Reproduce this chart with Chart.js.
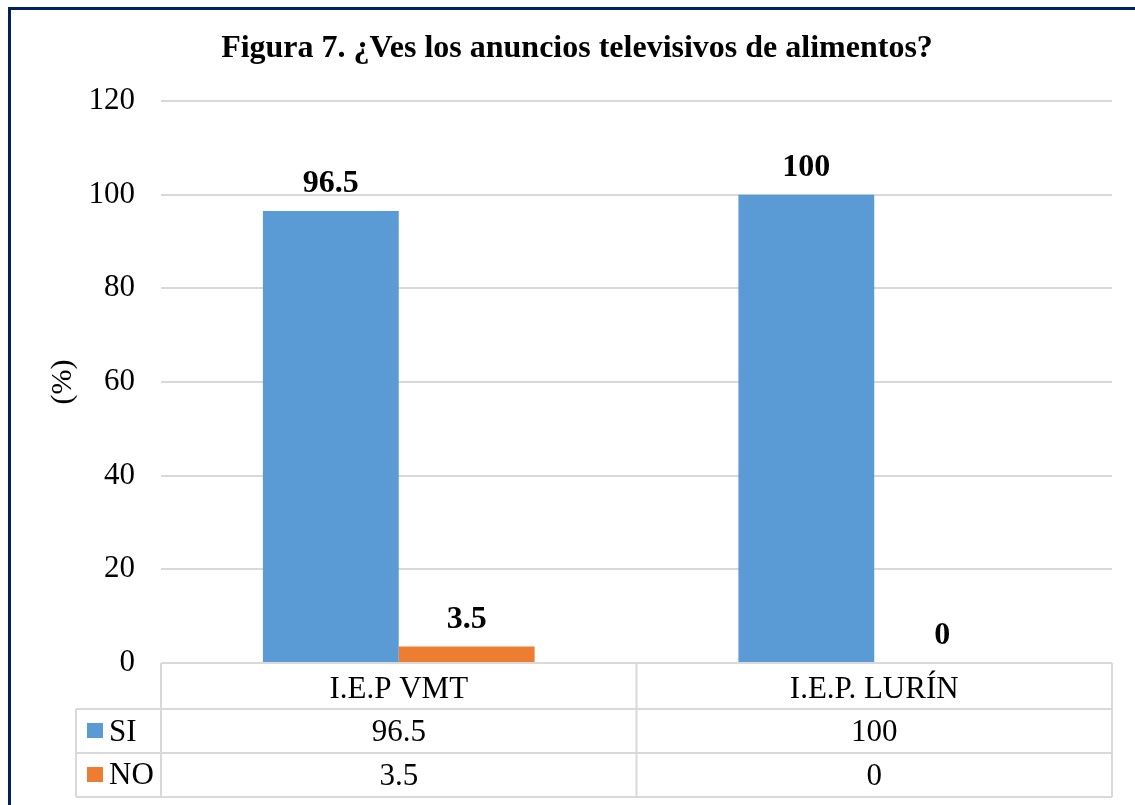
<!DOCTYPE html>
<html>
<head>
<meta charset="utf-8">
<script src="https://cdn.jsdelivr.net/npm/chart.js@4/dist/chart.umd.min.js"></script>
<style>
html,body{margin:0;padding:0;background:#fff;}
#wrap{position:relative;width:1135px;height:805px;}
</style>
</head>
<body>
<div id="wrap"><canvas id="c" width="1135" height="805"></canvas></div>
<script>
const titleText = "Figura 7. ¿Ves los anuncios televisivos de alimentos?";
const yAxisTitle = "(%)";
const categories = ["I.E.P VMT", "I.E.P. LURÍN"];
const seriesNames = ["SI", "NO"];
const siValues = [96.5, 100];
const noValues = [3.5, 0];
const yTicks = [0, 20, 40, 60, 80, 100, 120];
const colors = ["#5B9BD5", "#ED7D31"];
const FONT = "'Liberation Serif', 'Times New Roman', serif";

const framePlugin = {
  id: 'frame',
  beforeDraw(chart) {
    const ctx = chart.ctx;
    ctx.save();
    ctx.fillStyle = '#fff';
    ctx.fillRect(0, 0, chart.width, chart.height);
    ctx.fillStyle = '#002060';
    ctx.fillRect(8, 7, chart.width, 3);
    ctx.fillRect(8, 7, 3, chart.height);
    ctx.fillStyle = '#000';
    ctx.font = "bold 32px " + FONT;
    ctx.textAlign = 'center';
    ctx.textBaseline = 'alphabetic';
    ctx.fillText(titleText, 577, 57);
    // y axis title
    ctx.save();
    ctx.translate(63, 382);
    ctx.rotate(-Math.PI / 2);
    ctx.font = "30px " + FONT;
    ctx.textBaseline = 'middle';
    ctx.fillText(yAxisTitle, 0, 0);
    ctx.restore();
    ctx.restore();
  },
  afterDatasetsDraw(chart) {
    const ctx = chart.ctx;
    ctx.save();
    ctx.fillStyle = '#000';
    ctx.font = "bold 32px " + FONT;
    ctx.textAlign = 'center';
    ctx.textBaseline = 'alphabetic';
    chart.data.datasets.forEach((ds, i) => {
      const meta = chart.getDatasetMeta(i);
      meta.data.forEach((bar, j) => {
        ctx.fillText(String(ds.data[j]), bar.x, bar.y - 19);
      });
    });
    // data table
    const area = chart.chartArea;
    const x = chart.scales.x;
    const L = area.left, R = area.right, B = area.bottom;
    const y1 = 709, y2 = 753, y3 = 797;
    const legendLeft = 76;
    ctx.strokeStyle = '#d9d9d9';
    ctx.lineWidth = 2;
    ctx.beginPath();
    ctx.moveTo(L, B); ctx.lineTo(R, B);
    [y1, y2, y3].forEach(yy => { ctx.moveTo(legendLeft, yy); ctx.lineTo(R, yy); });
    ctx.moveTo(legendLeft, y1); ctx.lineTo(legendLeft, y3);
    ctx.moveTo(L, B); ctx.lineTo(L, y3);
    const mid = (x.getPixelForValue(0) + x.getPixelForValue(1)) / 2;
    ctx.moveTo(mid, B); ctx.lineTo(mid, y3);
    ctx.moveTo(R, B); ctx.lineTo(R, y3);
    ctx.stroke();
    ctx.font = "31px " + FONT;
    ctx.fillStyle = '#000';
    ctx.textAlign = 'center';
    ctx.textBaseline = 'alphabetic';
    categories.forEach((c, j) => {
      const cx = x.getPixelForValue(j);
      ctx.fillText(c, cx, 698);
      ctx.fillText(String(siValues[j]), cx, 741);
      ctx.fillText(String(noValues[j]), cx, 785);
    });
    const base = [741, 784];
    const sq = [723, 767];
    seriesNames.forEach((n, i) => {
      ctx.fillStyle = colors[i];
      ctx.fillRect(87, sq[i], 16, 15);
      ctx.fillStyle = '#000';
      ctx.textAlign = 'left';
      ctx.fillText(n, 109, base[i]);
    });
    ctx.restore();
  }
};

new Chart(document.getElementById('c'), {
  type: 'bar',
  data: {
    labels: categories,
    datasets: [
      { label: seriesNames[0], data: siValues, backgroundColor: colors[0], categoryPercentage: 0.5714, barPercentage: 1 },
      { label: seriesNames[1], data: noValues, backgroundColor: colors[1], categoryPercentage: 0.5714, barPercentage: 1 }
    ]
  },
  options: {
    responsive: false,
    animation: false,
    devicePixelRatio: 1,
    layout: { padding: { top: 101, right: 23, bottom: 142, left: 0 } },
    plugins: { legend: { display: false }, title: { display: false }, tooltip: { enabled: false } },
    scales: {
      x: { display: false },
      y: {
        min: 0, max: 120,
        afterBuildTicks(scale) { scale.ticks = yTicks.map(v => ({ value: v })); },
        afterFit(scale) { scale.width = 161; },
        ticks: { color: '#000', font: { family: FONT, size: 31 }, padding: 26 },
        grid: { color: '#d9d9d9', lineWidth: 2, drawTicks: false },
        border: { display: false },
        title: { display: false }
      }
    }
  },
  plugins: [framePlugin]
});
</script>
</body>
</html>
